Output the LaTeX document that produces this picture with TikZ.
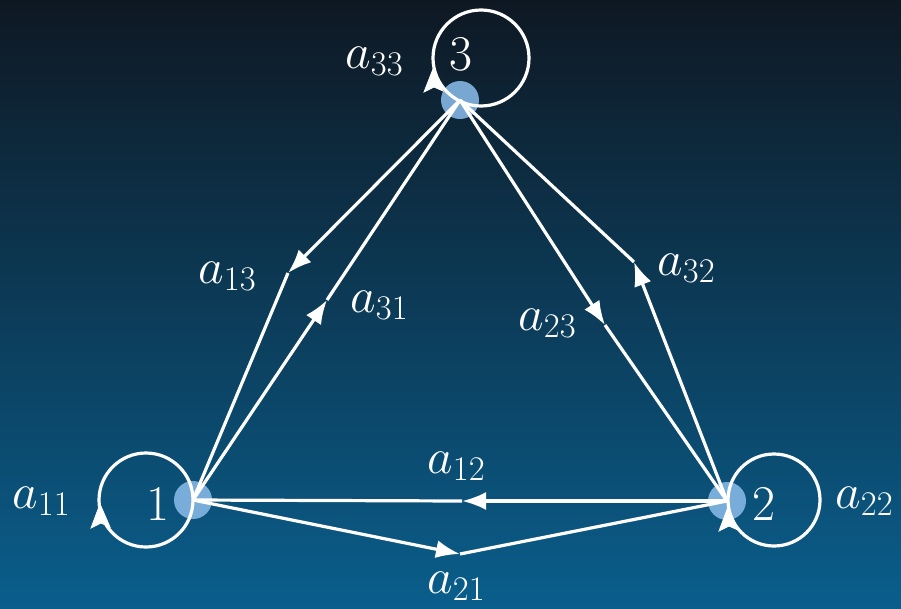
\documentclass[tikz,border=0pt]{standalone}
\usetikzlibrary{arrows.meta}
\definecolor{bgtop}{RGB}{14,24,35}
\definecolor{bgmid}{RGB}{13,52,80}
\definecolor{bgbot}{RGB}{10,94,140}
\definecolor{nodeblue}{RGB}{132,182,228}
\begin{document}
\begin{tikzpicture}[x=1pt,y=-1pt,
  every node/.style={text=white, font=\fontsize{25}{30}\selectfont},
  lbl/.style={anchor=base west, inner sep=0pt, scale=2},
  vert/.style={circle, fill=nodeblue, fill opacity=0.9, minimum size=38pt, inner sep=0pt},
  edgeline/.style={white, line width=3.2pt},
  arr/.style={edgeline, -{Latex[length=24pt,width=18pt]}},
  tiphead/.style={fill=white, draw=white, line width=0.8pt, line join=miter}]
\useasboundingbox (0,0) rectangle (901,608);
\shade[top color=bgtop, middle color=bgmid, bottom color=bgbot] (0,0) rectangle (901,608);

% vertices
\node[vert] (n1) at (193,500) {};
\node[vert] (n2) at (727,501) {};
\node[vert] (n3) at (460,100) {};

% vertex labels
\node[lbl] (l1) at (146,520) {1};
\node[lbl] (l2) at (752,520) {2};
\node[lbl] (l3) at (449,70) {3};

% kink / arrow-tip coordinates
\coordinate (k12) at (462,501);
\coordinate (k21) at (460,554);
\coordinate (k13) at (288,273);
\coordinate (k31) at (327,300);
\coordinate (k23) at (605,325);
\coordinate (k32) at (634,262);

% edges
\draw[arr] (n2.center) -- (k12); \draw[edgeline] (k12) -- (n1.center);
\draw[arr] (n1.center) -- (k21); \draw[edgeline] (k21) -- (n2.center);
\draw[arr] (n3.center) -- (k13); \draw[edgeline] (k13) -- (n1.center);
\draw[arr] (n1.center) -- (k31); \draw[edgeline] (k31) -- (n3.center);
\draw[arr] (n3.center) -- (k23); \draw[edgeline] (k23) -- (n2.center);
\draw[arr] (n2.center) -- (k32); \draw[edgeline] (k32) -- (n3.center);

% loops
\coordinate (c1) at (146,500);
\coordinate (c2) at (774,500);
\coordinate (c3) at (481,58);
\draw[edgeline] (c1) circle[radius=47];
\draw[edgeline] (c2) circle[radius=46];
\draw[edgeline] (c3) circle[radius=48];
% loop arrowheads
\coordinate (h1) at (100,504); \coordinate (h1l) at (91,528); \coordinate (h1m) at (101,523); \coordinate (h1r) at (110,527);
\coordinate (h2) at (728,507); \coordinate (h2l) at (719,531); \coordinate (h2m) at (729,526); \coordinate (h2r) at (738,530);
\coordinate (h3) at (433,69);  \coordinate (h3l) at (424,92);  \coordinate (h3m) at (434,87);  \coordinate (h3r) at (443,91);
\filldraw[tiphead] (h1) -- (h1l) -- (h1m) -- (h1r) -- cycle;
\filldraw[tiphead] (h2) -- (h2l) -- (h2m) -- (h2r) -- cycle;
\filldraw[tiphead] (h3) -- (h3l) -- (h3m) -- (h3r) -- cycle;

% edge labels
\node[lbl] (a11) at (12,508) {$a_{11}$};
\node[lbl] (a22) at (835,508) {$a_{22}$};
\node[lbl] (a33) at (345,68) {$a_{33}$};
\node[lbl] (a12) at (427,473) {$a_{12}$};
\node[lbl] (a21) at (427,593) {$a_{21}$};
\node[lbl] (a13) at (198,283) {$a_{13}$};
\node[lbl] (a31) at (350,312) {$a_{31}$};
\node[lbl] (a23) at (518,330) {$a_{23}$};
\node[lbl] (a32) at (657,275) {$a_{32}$};
\end{tikzpicture}
\end{document}
